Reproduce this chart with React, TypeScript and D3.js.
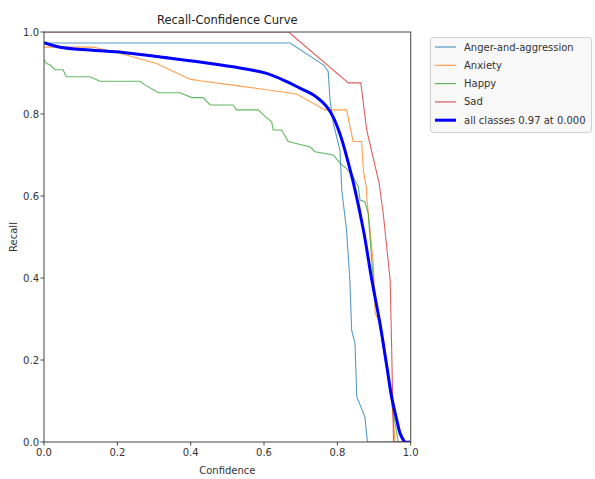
import React from "react";
import * as d3 from "d3";

type Pt = [number, number];

const seriesNames = ["Anger-and-aggression", "Anxiety", "Happy", "Sad"];
const seriesColors = ["#1f77b4", "#ff7f0e", "#2ca02c", "#d62728"];

const anger: Pt[] = [
  [0, 0.973], [0.671, 0.973], [0.762, 0.92], [0.775, 0.904], [0.78, 0.834],
  [0.789, 0.777], [0.807, 0.712], [0.812, 0.615], [0.825, 0.517], [0.834, 0.395],
  [0.839, 0.273], [0.848, 0.241], [0.853, 0.11], [0.875, 0.062], [0.882, 0], [1.0, 0],
];

const anxiety: Pt[] = [
  [0, 0.963], [0.134, 0.963], [0.207, 0.948], [0.307, 0.923], [0.398, 0.885],
  [0.425, 0.881], [0.535, 0.868], [0.689, 0.849], [0.766, 0.81], [0.825, 0.81],
  [0.843, 0.733], [0.866, 0.733], [0.871, 0.663], [0.88, 0.615], [0.88, 0.598],
  [0.898, 0.436], [0.903, 0.314], [0.912, 0.298], [0.93, 0.208], [0.944, 0.135],
  [0.953, 0.054], [0.957, 0], [1.0, 0],
];

const happy: Pt[] = [
  [0, 0.932], [0.007, 0.923], [0.016, 0.92], [0.03, 0.908], [0.052, 0.908],
  [0.061, 0.891], [0.125, 0.891], [0.153, 0.88], [0.262, 0.88], [0.275, 0.871],
  [0.312, 0.852], [0.371, 0.852], [0.403, 0.84], [0.434, 0.84], [0.453, 0.822],
  [0.516, 0.822], [0.525, 0.81], [0.584, 0.81], [0.603, 0.794], [0.621, 0.781],
  [0.625, 0.761], [0.648, 0.761], [0.666, 0.733], [0.707, 0.724], [0.725, 0.72],
  [0.739, 0.708], [0.789, 0.7], [0.807, 0.68], [0.825, 0.667], [0.843, 0.647],
  [0.857, 0.623], [0.862, 0.59], [0.875, 0.586], [0.884, 0.558], [0.898, 0.395],
  [0.925, 0.232], [0.944, 0.119], [0.953, 0.07], [0.966, 0], [1.0, 0],
];

const sad: Pt[] = [
  [0, 1.0], [0.667, 1.0], [0.83, 0.876], [0.864, 0.876], [0.88, 0.761],
  [0.914, 0.631], [0.925, 0.558], [0.944, 0.395], [0.948, 0.232], [0.953, 0.005],
  [0.953, 0], [1.0, 0],
];

const allClasses: Pt[] = [
  [0, 0.974], [0.044, 0.963], [0.125, 0.956], [0.216, 0.95], [0.307, 0.94],
  [0.425, 0.927], [0.516, 0.915], [0.607, 0.899], [0.662, 0.879], [0.698, 0.863],
  [0.734, 0.847], [0.758, 0.83], [0.776, 0.812], [0.79, 0.79], [0.802, 0.764],
  [0.813, 0.735], [0.825, 0.697], [0.843, 0.635], [0.871, 0.517], [0.894, 0.395],
  [0.916, 0.29], [0.935, 0.184], [0.948, 0.11], [0.962, 0.054], [0.971, 0.021],
  [0.98, 0.005], [0.985, 0], [1.0, 0],
];

const allLabel = "all classes 0.97 at 0.000";
const ticks = [0, 0.2, 0.4, 0.6, 0.8, 1.0];

const W = 595;
const H = 479;
const left = 44;
const right = 410.7;
const top = 32;
const bottom = 442;

export default function App() {
  const x = d3.scaleLinear().domain([0, 1]).range([left, right]);
  const y = d3.scaleLinear().domain([0, 1]).range([bottom, top]);
  const line = d3
    .line<Pt>()
    .x((d) => x(d[0]))
    .y((d) => y(d[1]));
  const smoothLine = d3
    .line<Pt>()
    .x((d) => x(d[0]))
    .y((d) => y(d[1]))
    .curve(d3.curveCatmullRom.alpha(0.5));
  const series = [anger, anxiety, happy, sad];
  const font = "DejaVu Sans, sans-serif";
  const textColor = "#333";
  const legendItems = [
    ...seriesNames.map((n, i) => ({ name: n, color: seriesColors[i], w: 1.2 })),
    { name: allLabel, color: "#0000ff", w: 3 },
  ];
  return (
    <svg
      width={W}
      height={H}
      style={{ position: "absolute", left: 0, top: 0, background: "#fff" }}
      fontFamily={font}
    >
      <defs>
        <clipPath id="plotclip">
          <rect x={left} y={top} width={right - left} height={bottom - top} />
        </clipPath>
      </defs>
      <g clipPath="url(#plotclip)">
        {series.map((s, i) => (
          <path
            key={i}
            d={line(s) || ""}
            fill="none"
            stroke={seriesColors[i]}
            strokeWidth={1.1}
            strokeOpacity={0.75}
          />
        ))}
        <path
          d={smoothLine(allClasses) || ""}
          fill="none"
          stroke="#0000ff"
          strokeWidth={3}
          strokeLinejoin="round"
        />
      </g>
      <rect
        x={left}
        y={top}
        width={right - left}
        height={bottom - top}
        fill="none"
        stroke="#444"
        strokeWidth={1}
      />
      {ticks.map((t) => (
        <g key={"x" + t}>
          <line x1={x(t)} x2={x(t)} y1={bottom} y2={bottom + 3.5} stroke="#444" />
          <text
            x={x(t)}
            y={bottom + 14}
            textAnchor="middle"
            fontSize={10}
            fill={textColor}
          >
            {t.toFixed(1)}
          </text>
        </g>
      ))}
      {ticks.map((t) => (
        <g key={"y" + t}>
          <line x1={left - 3.5} x2={left} y1={y(t)} y2={y(t)} stroke="#444" />
          <text
            x={left - 5}
            y={y(t) + 3.5}
            textAnchor="end"
            fontSize={10}
            fill={textColor}
          >
            {t.toFixed(1)}
          </text>
        </g>
      ))}
      <text
        x={(left + right) / 2}
        y={24}
        textAnchor="middle"
        fontSize={11.5}
        fill="#222"
      >
        Recall-Confidence Curve
      </text>
      <text
        x={(left + right) / 2}
        y={474}
        textAnchor="middle"
        fontSize={10}
        fill={textColor}
      >
        Confidence
      </text>
      <text
        transform={`translate(17,${(top + bottom) / 2}) rotate(-90)`}
        textAnchor="middle"
        fontSize={10}
        fill={textColor}
      >
        Recall
      </text>
      <g>
        <rect
          x={430.5}
          y={37.5}
          width={161}
          height={95}
          rx={2.5}
          fill="#f8f8f8"
          stroke="#d0d0d0"
        />
        {legendItems.map((it, i) => {
          const ly = 47 + i * 18.3;
          return (
            <g key={it.name}>
              <line
                x1={435}
                x2={456}
                y1={ly}
                y2={ly}
                stroke={it.color}
                strokeWidth={it.w}
                strokeOpacity={it.w > 2 ? 1 : 0.75}
              />
              <text x={464} y={ly + 3.5} fontSize={10} fill={textColor}>
                {it.name}
              </text>
            </g>
          );
        })}
      </g>
    </svg>
  );
}
